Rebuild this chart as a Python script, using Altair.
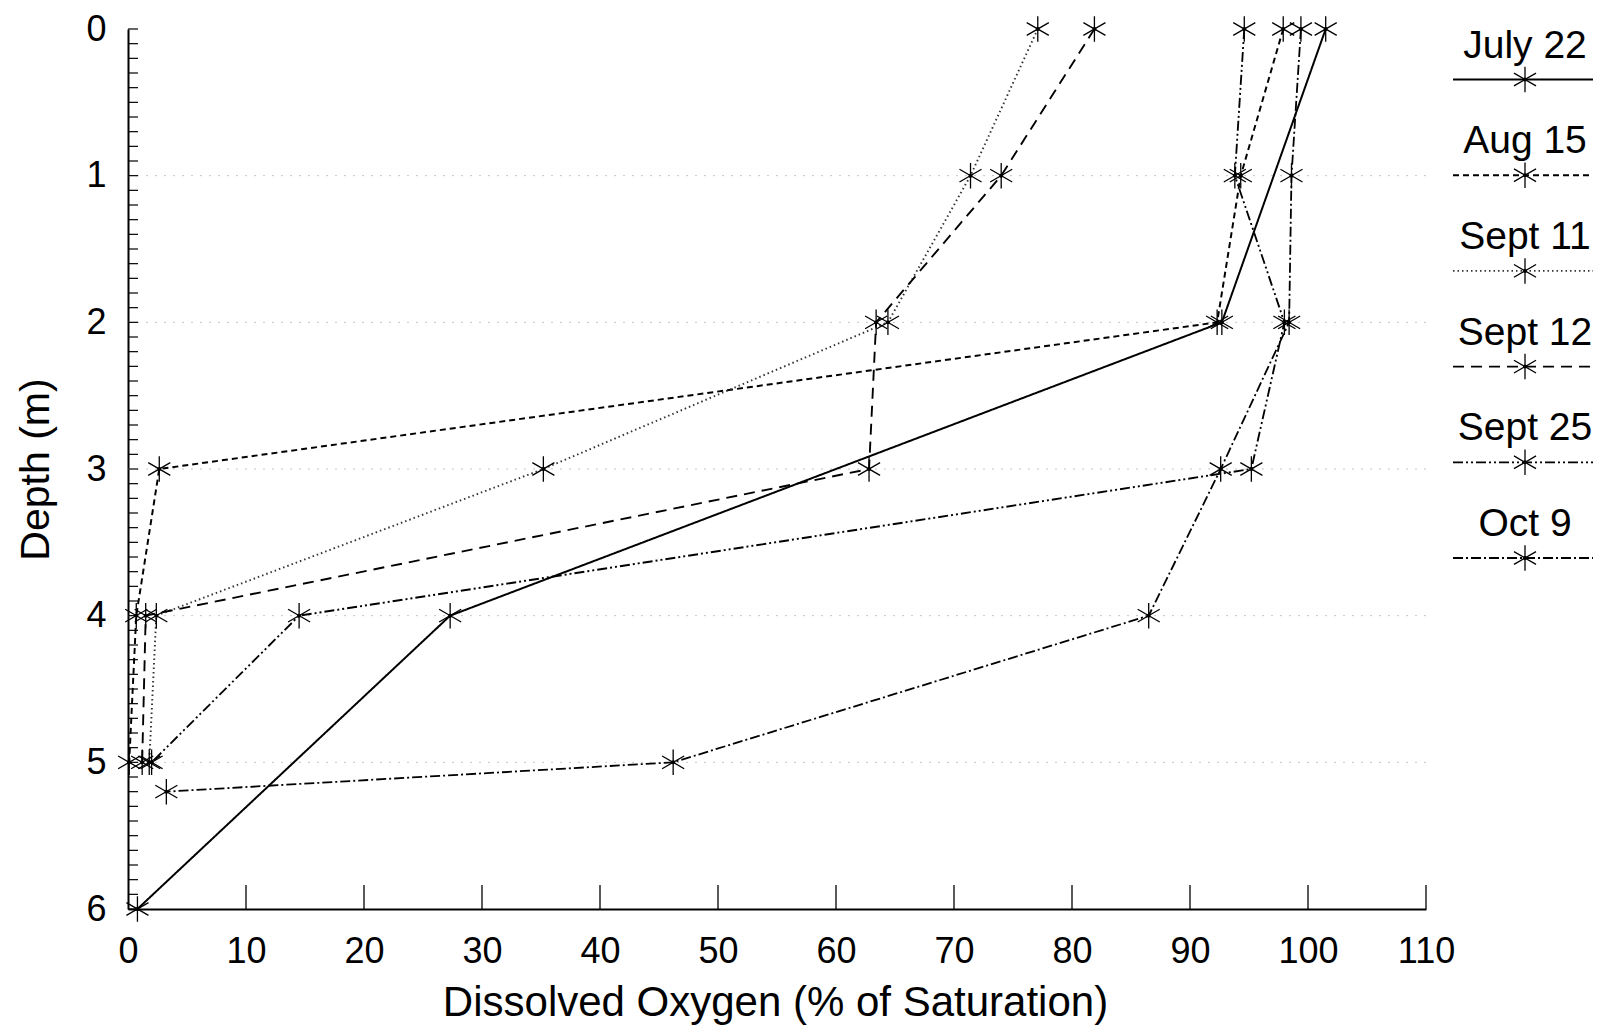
import altair as alt
import pandas as pd

# ---------------- data ----------------
series = ["July 22", "Aug 15", "Sept 11", "Sept 12", "Sept 25", "Oct 9"]

july22_depth = [0, 2, 4, 6]
july22_do = [101.5, 92.7, 27.3, 0.8]

aug15_depth = [0, 1, 2, 3, 4, 5]
aug15_do = [97.9, 94.3, 92.3, 2.65, 0.7, 0.1]

sept11_depth = [0, 1, 2, 3, 4, 5]
sept11_do = [77.1, 71.4, 64.4, 35.2, 2.4, 1.8]

sept12_depth = [0, 1, 2, 3, 4, 5]
sept12_do = [81.9, 74.0, 63.4, 62.8, 1.5, 1.2]

sept25_depth = [0, 1, 2, 3, 4, 5]
sept25_do = [94.6, 93.8, 98.0, 95.2, 14.5, 2.0]

oct9_depth = [0, 1, 2, 3, 4, 5, 5.2]
oct9_do = [99.4, 98.6, 98.4, 92.6, 86.5, 46.2, 3.25]

x_tick_values = [0, 10, 20, 30, 40, 50, 60, 70, 80, 90, 100, 110]
x_tick_marks = [10, 20, 30, 40, 50, 60, 70, 80, 90, 100, 110]
y_tick_values = [0, 1, 2, 3, 4, 5, 6]
y_minor_ticks = [round(i * 0.1, 1) for i in range(61)]
grid_depths = [1, 2, 3, 4, 5]

# ---------------- tables ----------------
rows = []
for name, ds, vs in [
    ("July 22", july22_depth, july22_do),
    ("Aug 15", aug15_depth, aug15_do),
    ("Sept 11", sept11_depth, sept11_do),
    ("Sept 12", sept12_depth, sept12_do),
    ("Sept 25", sept25_depth, sept25_do),
    ("Oct 9", oct9_depth, oct9_do),
]:
    for d, v in zip(ds, vs):
        rows.append({"series": name, "depth": d, "do": v})
df = pd.DataFrame(rows)
legend_df = pd.DataFrame({"series": series})
xt_df = pd.DataFrame({"do": x_tick_marks})
yt_df = pd.DataFrame({"d": y_minor_ticks})
grid_df = pd.DataFrame({"d": grid_depths})

# ---------------- styles ----------------
W, H = 1298, 880
FONT = "Liberation Sans"
STAR = "M0,-1L0,1M-0.866,-0.5L0.866,0.5M-0.866,0.5L0.866,-0.5"

dash_range = [[1, 0], [6, 4], [1.5, 3], [11, 7], [10, 3, 2, 3, 2, 3], [10, 3, 2, 3]]
width_range = [2.0, 1.8, 1.4, 1.9, 1.8, 1.8]
color_range = ["#000000", "#000000", "#333333", "#000000", "#000000", "#000000"]

xscale = alt.Scale(domain=[0, 110], nice=False, zero=False)
yscale = alt.Scale(domain=[0, 6], nice=False, zero=False, reverse=True)

dash_enc = alt.StrokeDash("series:N", scale=alt.Scale(domain=series, range=dash_range), legend=None)
width_enc = alt.StrokeWidth("series:N", scale=alt.Scale(domain=series, range=width_range), legend=None)
color_enc = alt.Color("series:N", scale=alt.Scale(domain=series, range=color_range), legend=None)

x_axis = alt.Axis(
    values=x_tick_values, title="Dissolved Oxygen (% of Saturation)",
    labelFont=FONT, labelFontSize=36, labelColor="black", labelFlush=False, labelOverlap=False,
    labelBaseline="alphabetic", labelPadding=53, ticks=False, tickSize=0, grid=False,
    domainColor="black", domainWidth=2,
    titleFont=FONT, titleFontSize=42, titleFontWeight="normal", titleColor="black",
    titleX=W / 2 - 2, titleY=106, titleBaseline="alphabetic", titleAlign="center",
)
y_axis = alt.Axis(
    values=y_tick_values, title="Depth (m)",
    labelFont=FONT, labelFontSize=36, labelColor="black", labelFlush=False, labelOverlap=False,
    labelPadding=22, ticks=False, tickSize=0, grid=False,
    domainColor="black", domainWidth=2,
    titleFont=FONT, titleFontSize=41, titleFontWeight="normal", titleColor="black",
    titleX=-92, titleY=H / 2, titleAngle=270, titleBaseline="middle", titleAlign="center",
)

X = alt.X("do:Q", scale=xscale, axis=x_axis)

# ---------------- layers ----------------
grid = alt.Chart(grid_df).mark_rule(color="#c4c4c4", strokeWidth=1, strokeDash=[2, 7]).encode(
    y=alt.Y("d:Q", scale=yscale, axis=None),
    x=alt.value(0), x2=alt.value(W),
)

lines = alt.Chart(df).mark_line().encode(
    x=X,
    y=alt.Y("depth:Q", scale=yscale, axis=y_axis),
    order=alt.Order("depth:Q"),
    detail="series:N",
    strokeDash=dash_enc, strokeWidth=width_enc, color=color_enc,
)

stars = alt.Chart(df).mark_point(shape=STAR, size=650, filled=False, strokeWidth=1.3, opacity=1, color="black").encode(
    x=X,
    y=alt.Y("depth:Q", scale=yscale, axis=None),
)
dots = alt.Chart(df).mark_point(shape="circle", size=16, filled=True, opacity=1, color="black").encode(
    x=X,
    y=alt.Y("depth:Q", scale=yscale, axis=None),
)

x_ticks = alt.Chart(xt_df).mark_rule(color="black", strokeWidth=1.3).encode(
    x=X,
    y=alt.value(H), y2=alt.value(H - 24),
)
y_ticks = alt.Chart(yt_df).mark_rule(color="black", strokeWidth=1.2).encode(
    y=alt.Y("d:Q", scale=yscale, axis=None),
    x=alt.value(0), x2=alt.value(10),
)

leg_y = alt.Y("series:N", sort=series,
              scale=alt.Scale(type="point", domain=series, range=[50.5, 529], padding=0),
              axis=None)
leg_text = alt.Chart(legend_df).mark_text(
    font=FONT, fontSize=39, color="black", align="center", baseline="alphabetic", dy=-22
).encode(y=leg_y, x=alt.value(1397), text="series:N")
leg_line = alt.Chart(legend_df).mark_rule().encode(
    y=leg_y, x=alt.value(1325), x2=alt.value(1465),
    strokeDash=dash_enc, strokeWidth=width_enc, color=color_enc,
)
leg_star = alt.Chart(legend_df).mark_point(shape=STAR, size=650, filled=False, strokeWidth=1.3, opacity=1, color="black").encode(
    y=leg_y, x=alt.value(1397),
)
leg_dot = alt.Chart(legend_df).mark_point(shape="circle", size=16, filled=True, opacity=1, color="black").encode(
    y=leg_y, x=alt.value(1397),
)

chart = alt.layer(
    grid, lines, stars, dots, x_ticks, y_ticks, leg_line, leg_star, leg_dot, leg_text
).resolve_scale(y="independent").properties(
    width=W, height=H,
    padding={"left": 120, "top": 21, "right": 172, "bottom": 118},
    autosize=alt.AutoSizeParams(type="none"),
    background="white",
).configure_view(stroke=None)

chart.save("out.html", embed_options={"renderer": "svg", "actions": False})
